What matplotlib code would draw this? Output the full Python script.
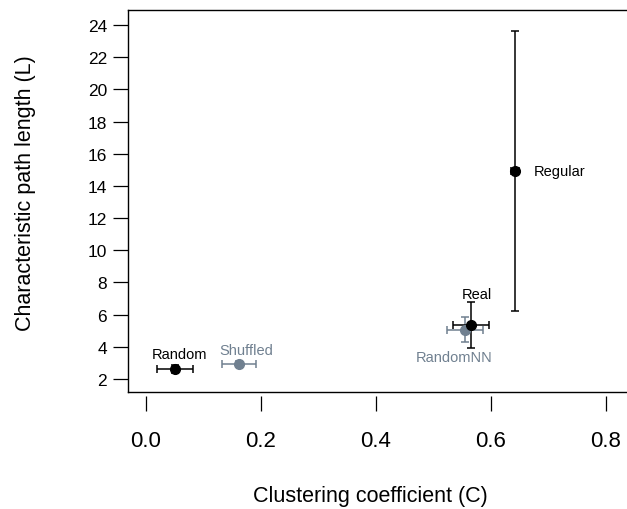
import matplotlib
matplotlib.use("Agg")
import matplotlib.pyplot as plt

plt.rcParams['font.family'] = ['Liberation Sans', 'DejaVu Sans']

names = ["Random", "Shuffled", "Real", "RandomNN", "Regular"]
C_vals = [0.050, 0.162, 0.565, 0.555, 0.642]
C_err = [0.031, 0.030, 0.031, 0.031, 0.007]
L_vals = [2.62, 2.93, 5.36, 5.05, 14.93]
L_err_lo = [0.25, 0.2, 1.43, 0.75, 8.7]
L_err_hi = [0.25, 0.2, 1.43, 0.80, 8.7]
colors = ["black", "#708090", "black", "#708090", "black"]
label_offsets_px = [(5, 14), (7, 13), (6, 30), (-11, -26), (18, 0)]
label_ha = ["center", "center", "center", "center", "left"]

xticks = [0.0, 0.2, 0.4, 0.6, 0.8]
xticklabels = ["0.0", "0.2", "0.4", "0.6", "0.8"]
yticks = [2, 4, 6, 8, 10, 12, 14, 16, 18, 20, 22, 24]

fig = plt.figure(figsize=(6.27, 5.10), dpi=100)
ax = fig.add_axes([128/627, 117.5/510, 1 - 128/627, (392.5-11)/510])
ax.set_xlim(-0.0313, (627 - 146) / 575)
ax.set_ylim(1.22, 24.93)

order = [1, 3, 0, 2, 4]
for i in order:
    ax.errorbar(C_vals[i], L_vals[i], xerr=C_err[i],
                yerr=[[L_err_lo[i]], [L_err_hi[i]]],
                fmt='o', color=colors[i], ecolor=colors[i], ms=7,
                elinewidth=1.1, capsize=3.2, capthick=1.1, zorder=3)
for i in range(len(names)):
    dx, dy = label_offsets_px[i]
    ax.annotate(names[i], (C_vals[i], L_vals[i]),
                xytext=(dx*0.75, dy*0.75), textcoords='offset points',
                ha=label_ha[i], va='center', fontsize=10.5, color=colors[i])

ax.spines['top'].set_linewidth(1.0)
ax.spines['bottom'].set_linewidth(1.0)
ax.spines['left'].set_linewidth(1.0)
ax.spines['right'].set_visible(False)
ax.set_xticks(xticks)
ax.tick_params(axis='x', length=0, labelbottom=False)
ax.set_yticks(yticks)
ax.tick_params(axis='y', direction='out', length=11, width=0.9,
               labelsize=12.5, pad=4)

sec = ax.secondary_xaxis(-4/381.5)
for s in sec.spines.values():
    s.set_visible(False)
sec.set_xticks(xticks)
sec.set_xticklabels(xticklabels)
sec.tick_params(axis='x', direction='out', length=11, width=0.9,
                labelsize=16, pad=14)

fig.text(370/627, 1 - 497/510, "Clustering coefficient (C)", ha='center',
         va='center', fontsize=15.5)
fig.text(26/627, 1 - 193/510, "Characteristic path length (L)", ha='center',
         va='center', rotation=90, fontsize=15.5)

fig.savefig("out.png", dpi=100)
